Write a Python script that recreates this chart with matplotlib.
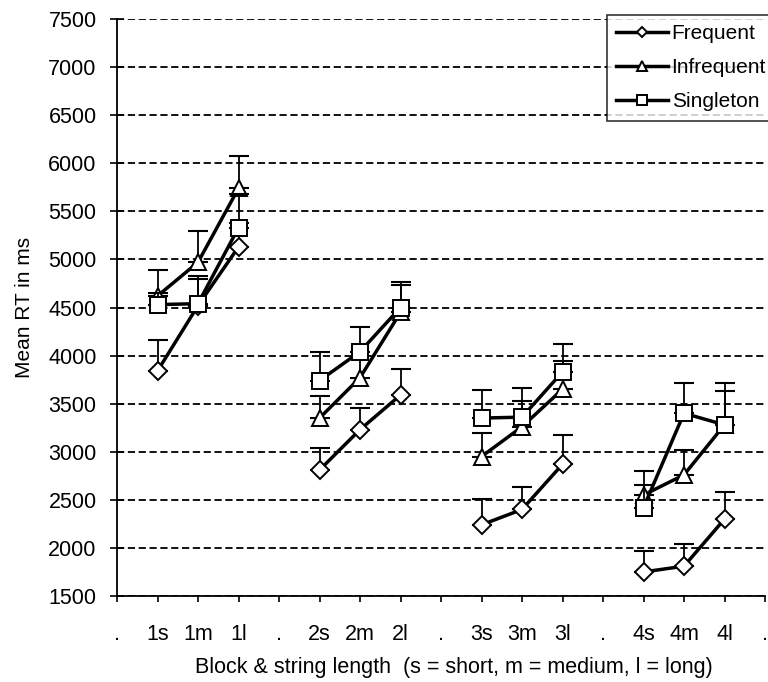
import numpy as np
import matplotlib.pyplot as plt

plt.rcParams['font.family'] = ['Liberation Sans', 'DejaVu Sans']

# category axis: '.' separates the four blocks
labels = ['.', '1s', '1m', '1l', '.', '2s', '2m', '2l', '.',
          '3s', '3m', '3l', '.', '4s', '4m', '4l', '.']
blocks = [[1, 2, 3], [5, 6, 7], [9, 10, 11], [13, 14, 15]]

frequent = [3840, 4520, 5130, 2810, 3230, 3590, 2240, 2400, 2870, 1750, 1810, 2300]
frequent_top = [4160, 4800, 5380, 3040, 3450, 3860, 2510, 2630, 3170, 1970, 2040, 2580]

infrequent = [4620, 4970, 5740, 3350, 3770, 4450, 2950, 3260, 3650, 2550, 2760, 3280]
infrequent_top = [4890, 5300, 6080, 3580, 4040, 4730, 3190, 3530, 3940, 2800, 3020, 3630]

singleton = [4530, 4540, 5330, 3740, 4040, 4500, 3350, 3360, 3830, 2420, 3400, 3280]
singleton_top = [4650, 4830, 5680, 4040, 4300, 4760, 3640, 3660, 4120, 2650, 3710, 3710]

series = [
    ('Frequent', 'D', 9.5, frequent, frequent_top),
    ('Infrequent', '^', 12, infrequent, infrequent_top),
    ('Singleton', 's', 12, singleton, singleton_top),
]

fig = plt.figure(figsize=(7.68, 6.82), dpi=100)
ax = fig.add_axes([117/768, 1-596/682, (765-117)/768, (596-19)/682])

for k, (name, mk, ms, vals, tops) in enumerate(series):
    vals = np.array(vals, dtype=float)
    tops = np.array(tops, dtype=float)
    for b, xs in enumerate(blocks):
        v = vals[b*3:b*3+3]
        t = tops[b*3:b*3+3]
        ax.errorbar(xs, v, yerr=[np.zeros(3), t - v], fmt='none',
                    ecolor='black', elinewidth=1.3, capsize=7, capthick=1.5,
                    zorder=2 + k)
        ax.plot(xs, v, color='black', lw=2.5, marker=mk, ms=ms,
                mfc='white', mec='black', mew=1.4, zorder=3 + k,
                label=name if b == 0 else None)

ax.set_xlim(0, 16)
ax.set_ylim(1500, 7500)
ax.set_xticks(range(len(labels)))
ax.set_xticklabels(labels)
ax.set_yticks(np.arange(1500, 7501, 500))

ax.yaxis.grid(True, linestyle=(0, (4, 2)), color='black', lw=1.3)
ax.set_axisbelow(True)

for s in ['top', 'right']:
    ax.spines[s].set_visible(False)
ax.spines['left'].set_linewidth(1.3)
ax.spines['bottom'].set_linewidth(1.3)

ax.tick_params(axis='y', direction='inout', length=9.5, width=1.2,
               labelsize=15.5, pad=10)
ax.tick_params(axis='x', direction='out', length=4.5, width=1.2,
               labelsize=15.5, pad=16)

ax.set_xlabel('Block & string length  (s = short, m = medium, l = long)',
              fontsize=15.5)
ax.xaxis.set_label_coords(0.52, -0.105)
ax.set_ylabel('Mean RT in ms', fontsize=15, labelpad=10)

leg = fig.legend(loc='upper left', bbox_to_anchor=(607/768, 1-15/682),
                 bbox_transform=fig.transFigure, fontsize=15, markerscale=0.55,
                 frameon=True, fancybox=False, edgecolor='black',
                 handlelength=2.5, handletextpad=0.15, labelspacing=0.72,
                 borderpad=0.45, borderaxespad=0)
leg.get_frame().set_linewidth(1.2)

fig.savefig('out.png', dpi=100)
